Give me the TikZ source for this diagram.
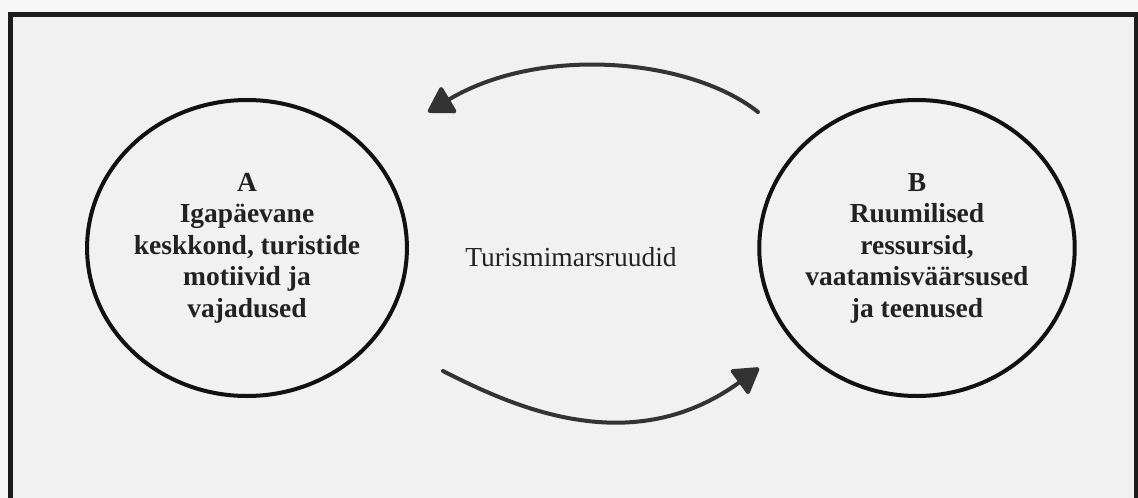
\documentclass[tikz,border=0pt]{standalone}
\usepackage{fontspec}
\setmainfont{Liberation Serif}
\usetikzlibrary{shapes.geometric,arrows.meta}
\definecolor{bgcol}{HTML}{F1F1F1}
\definecolor{framecol}{HTML}{1C1C1C}
\definecolor{circcol}{HTML}{111111}
\definecolor{arrcol}{HTML}{333333}
\definecolor{txtcol}{HTML}{222222}
\tikzset{
  zone/.style={ellipse, draw=circcol, line width=4pt, minimum width=312pt, minimum height=296pt,
    inner sep=0pt, align=center, text=txtcol,
    font=\fontsize{27.5}{31.5}\selectfont\bfseries},
  flow/.style={draw=arrcol, line width=4pt, line cap=round,
    -{Triangle[length=27pt,width=32pt,round]}},
  lbl/.style={text=txtcol, font=\fontsize{27.5}{31.5}\selectfont, inner sep=0pt}
}
\begin{document}
\begin{tikzpicture}[x=1pt,y=-1pt]
\useasboundingbox (0,0) rectangle (1138,498);
\fill[white!97!black] (0,0) rectangle (1138,498);
\begin{scope}
\clip (0,0) rectangle (1138,498);
\draw[framecol, line width=5pt, fill=bgcol] (10.5,14) rectangle (1136.5,520);
\end{scope}
\node[zone] (A) at (247,248) {A\\Igapäevane\\keskkond, turistide\\motiivid ja\\vajadused};
\node[zone] (B) at (917,248) {B\\Ruumilised\\ressursid,\\vaatamisväärsused\\ja teenused};
\node[lbl] (T) at (571,257) {Turismimarsruudid};
\coordinate (tS) at (758,112);
\coordinate (tE) at (428,112);
\coordinate (bS) at (443,371);
\coordinate (bE) at (759,368);
\draw[flow] (tS) .. controls (690,58) and (540,45) .. (tE);
\draw[flow] (bS) .. controls (510,405) and (630,462) .. (bE);
\end{tikzpicture}
\end{document}
